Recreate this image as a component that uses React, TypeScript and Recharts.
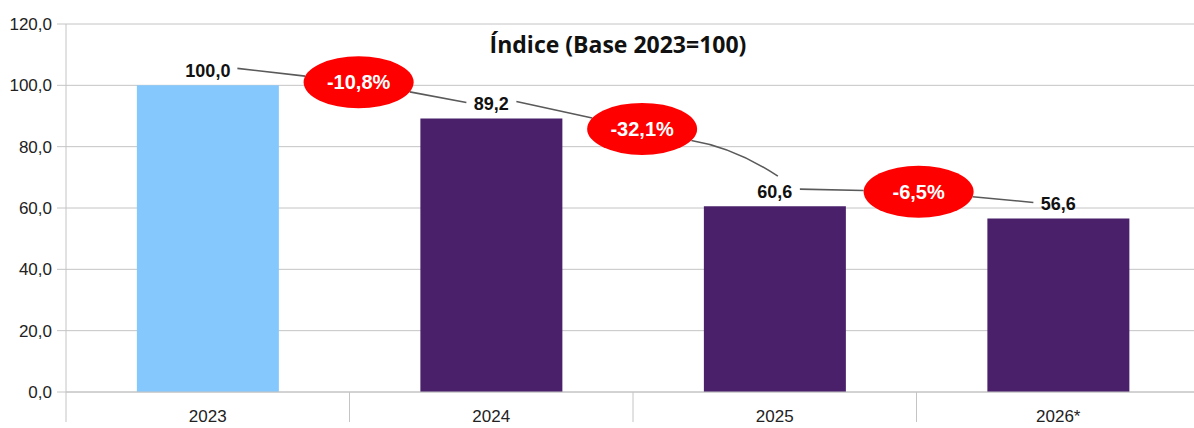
import React from 'react';
import { BarChart, Bar, XAxis, YAxis, CartesianGrid, Cell, LabelList } from 'recharts';

// ---- data ----
const CATEGORIES = ['2023', '2024', '2025', '2026*'];
const INDEX_VALUES = [100.0, 89.2, 60.6, 56.6];
const CHANGE_LABELS = ['-10,8%', '-32,1%', '-6,5%'];
const Y_TICKS = [0, 20, 40, 60, 80, 100, 120];
const TITLE = 'Índice (Base 2023=100)';

// ---- layout / style ----
const CHART_W = 1202;
const CHART_H = 428;
const Y_AXIS_W = 66;
const X_AXIS_H = 36;
const MARGIN = { top: 24, right: 2, left: 0, bottom: 0 };
const PLOT_W = CHART_W - Y_AXIS_W - MARGIN.left - MARGIN.right;
const BAR_COLORS = ['#85C8FD', '#4B206B', '#4B206B', '#4B206B'];
const GRID = '#c4c4c4';
const BADGE_LEVELS = [101, 85.8, 65.3]; // vertical placement of badges in axis units
const BADGE_DX = [9, 9, 2];
const BADGE_RX = 55;
const BADGE_RY = 26;
const FONT = '"Liberation Sans", Arial, sans-serif';
const LINE = '#5a5a5a';

const data = CATEGORIES.map((c, i) => ({ name: c, value: INDEX_VALUES[i] }));
const fmt = (v: number) => v.toFixed(1).replace('.', ',');

function ellipsePoint(cx: number, cy: number, tx: number, ty: number) {
  const dx = tx - cx;
  const dy = ty - cy;
  const k = Math.sqrt((dx / BADGE_RX) ** 2 + (dy / BADGE_RY) ** 2);
  return { x: cx + dx / k, y: cy + dy / k };
}

const ValueLabel = (props: any) => {
  const { x, y, width, height, index } = props;
  const value = INDEX_VALUES[index];
  const cx = x + width / 2;
  const text = fmt(value);
  const hw = text.length * 4.5;
  const labelCy = y - 14;
  const parts: React.ReactNode[] = [];
  if (index < INDEX_VALUES.length - 1) {
    const catW = PLOT_W / CATEGORIES.length;
    const pxPerUnit = height / value;
    const zeroY = y + height;
    const yOf = (v: number) => zeroY - v * pxPerUnit;
    const ecx = cx + catW / 2 + BADGE_DX[index];
    const ecy = yOf(BADGE_LEVELS[index]);
    const nextValue = INDEX_VALUES[index + 1];
    const nextCx = cx + catW;
    const nextTop = yOf(nextValue);
    const nextCy = nextTop - 14;
    const nhw = fmt(nextValue).length * 4.5;
    const s1 = { x: cx + hw + 7, y: labelCy - 3 };
    const e1 = ellipsePoint(ecx, ecy, s1.x, s1.y);
    parts.push(<line key="l1" x1={s1.x} y1={s1.y} x2={e1.x} y2={e1.y} stroke={LINE} strokeWidth={1.6} />);
    if (nextCy - ecy > 40) {
      const end = { x: nextCx + 3, y: nextTop - 30 };
      const st = ellipsePoint(ecx, ecy, ecx + 51, ecy + 12);
      const c = { x: st.x + 0.5 * (end.x - st.x), y: st.y + 0.2 * (end.y - st.y) };
      parts.push(
        <path key="l2" d={`M${st.x},${st.y} Q${c.x},${c.y} ${end.x},${end.y}`} fill="none" stroke={LINE} strokeWidth={1.6} />
      );
    } else {
      const end = { x: nextCx - nhw - 7, y: nextCy - 2 };
      const st = ellipsePoint(ecx, ecy, end.x, end.y);
      parts.push(<line key="l2" x1={st.x} y1={st.y} x2={end.x} y2={end.y} stroke={LINE} strokeWidth={1.6} />);
    }
    parts.push(<ellipse key="e" cx={ecx} cy={ecy} rx={BADGE_RX} ry={BADGE_RY} fill="#FF0000" />);
    parts.push(
      <text key="t" x={ecx} y={ecy + 7} textAnchor="middle" fill="#ffffff" fontFamily={FONT} fontWeight={700} fontSize={20}>
        {CHANGE_LABELS[index]}
      </text>
    );
  }
  return (
    <g>
      {parts}
      <text x={cx} y={y - 8} textAnchor="middle" fill="#111" fontFamily={FONT} fontWeight={700} fontSize={18}>
        {text}
      </text>
    </g>
  );
};

const XTick = (props: any) => {
  const { x, y, payload } = props;
  const catW = PLOT_W / CATEGORIES.length;
  return (
    <g>
      <line x1={x - catW / 2} y1={y} x2={x - catW / 2} y2={y + 30} stroke={GRID} strokeWidth={1} />
      <text x={x} y={y + 30} textAnchor="middle" fill="#222" fontFamily={FONT} fontSize={17}>
        {payload.value}
      </text>
    </g>
  );
};

export default function App() {
  return (
    <div style={{ position: 'absolute', left: 0, top: 0, width: 1194, height: 428, overflow: 'hidden', background: '#fff' }}>
      <BarChart width={CHART_W} height={CHART_H} data={data} margin={MARGIN} barCategoryGap="25%">
        <CartesianGrid horizontal vertical={false} stroke={GRID} />
        <XAxis
          dataKey="name"
          axisLine={{ stroke: GRID }}
          tickLine={false}
          tickSize={0}
          tickMargin={0}
          height={X_AXIS_H}
          tick={<XTick />}
          interval={0}
        />
        <YAxis
          width={Y_AXIS_W}
          domain={[0, 120]}
          ticks={Y_TICKS}
          interval={0}
          tickFormatter={(v: number) => fmt(v)}
          axisLine={{ stroke: GRID }}
          tickLine={{ stroke: GRID }}
          tickSize={9}
          tickMargin={5}
          tick={{ fill: '#222', fontSize: 17, fontFamily: FONT }}
        />
        <Bar dataKey="value" isAnimationActive={false}>
          {data.map((d, i) => (
            <Cell key={d.name} fill={BAR_COLORS[i]} />
          ))}
          <LabelList dataKey="value" content={<ValueLabel />} />
        </Bar>
      </BarChart>
      <div
        style={{
          position: 'absolute',
          left: 618,
          top: 33,
          transform: 'translateX(-50%)',
          whiteSpace: 'nowrap',
          fontFamily: '"Open Sans", sans-serif',
          fontWeight: 700,
          fontSize: 23,
          lineHeight: '23px',
          color: '#111',
        }}
      >
        {TITLE}
      </div>
    </div>
  );
}
